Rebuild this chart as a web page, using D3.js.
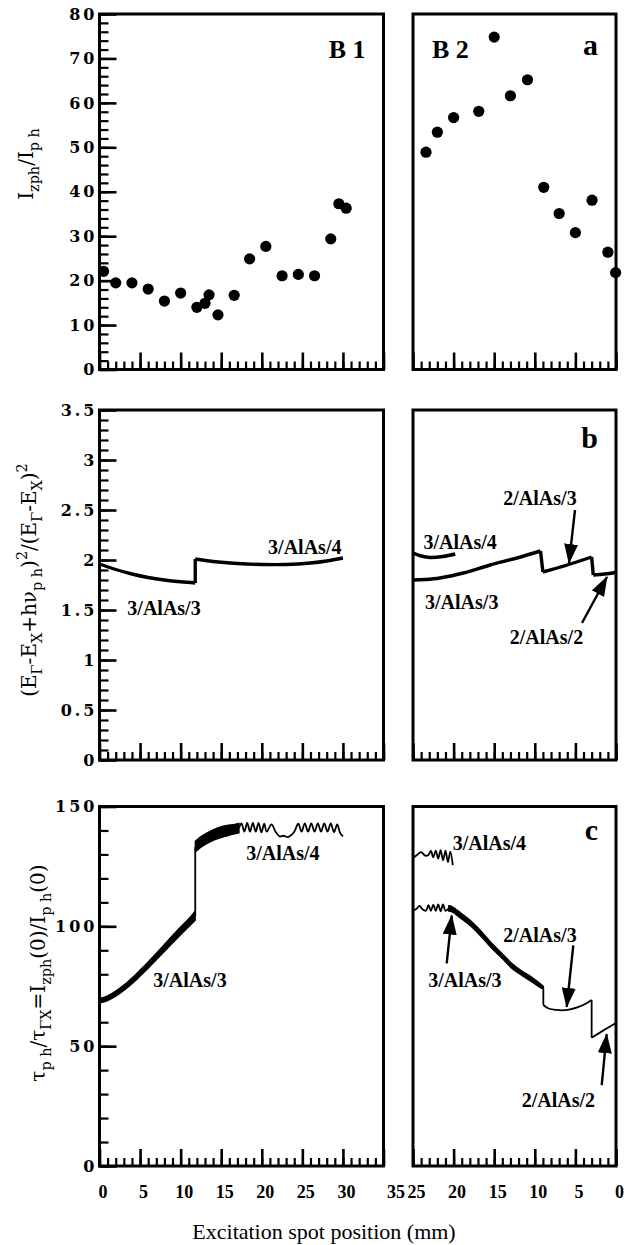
<!DOCTYPE html>
<html>
<head>
<meta charset="utf-8">
<script src="https://cdn.jsdelivr.net/npm/d3@7"></script>
<style>
  body { margin: 0; background: #fff; }
</style>
</head>
<body>
<svg id="chart" width="641" height="1245"></svg>
<script>
// ---- panel a : I_zph / I_ph measured points ----
const aLeftX  = [0.5, 2, 4, 6, 8, 10, 12, 13, 13.5, 14.6, 16.6, 18.5, 20.5, 22.5, 24.5, 26.5, 28.5, 29.5, 30.4];
const aLeftY  = [22.1, 19.5, 19.5, 18.1, 15.4, 17.2, 14.0, 14.9, 16.8, 12.3, 16.7, 24.9, 27.7, 21.1, 21.4, 21.1, 29.4, 37.3, 36.3];
const aRightX = [23.4, 22.0, 20.0, 16.9, 15.0, 13.0, 10.9, 8.9, 7.0, 5.0, 2.95, 1.0, 0.05];
const aRightY = [48.9, 53.4, 56.7, 58.1, 74.8, 61.6, 65.2, 41.0, 35.1, 30.8, 38.1, 26.4, 21.8];

// ---- panel b : energy ratio curves [x, y] ----
const bLeftLines = [
  [[0, 1.96], [2, 1.905], [4, 1.86], [6, 1.825], [8, 1.80], [10, 1.782], [11.8, 1.77]],
  [[11.8, 1.77], [11.8, 2.01]],
  [[11.8, 2.01], [14, 1.985], [17, 1.965], [20, 1.955], [23, 1.955], [26, 1.97], [28, 1.99], [30, 2.02]]
];
const bRightLines = [
  [[25, 2.07], [24, 2.04], [22.9, 2.025], [21.3, 2.035], [19.8, 2.06]],
  [[25, 1.80], [23.5, 1.805], [21.7, 1.82], [18.8, 1.87], [15.5, 1.95], [12.2, 2.02], [9.3, 2.09]],
  [[9.3, 2.09], [9.0, 1.88]],
  [[9.0, 1.88], [6.0, 1.95], [3.0, 2.03]],
  [[3.0, 2.03], [2.8, 1.85]],
  [[2.8, 1.85], [1.4, 1.86], [0, 1.875]]
];

// ---- panel c : lifetime ratio, dense oscillation as bands [x, low, high] ----
const cLeftBands = [
  [[0, 68, 69.8], [1, 69, 71], [2, 70.8, 73], [3, 73.2, 75.5], [4, 76, 78.5], [5, 79.2, 81.8], [6, 82.5, 85.2],
   [7, 86, 88.8], [8, 89.5, 92.5], [9, 93, 96.2], [10, 96.5, 99.8], [11, 99.8, 103.2], [11.8, 102.5, 106.5]],
  [[11.8, 131, 135.5], [12.5, 133, 137.5], [13.5, 135, 139.5], [14.5, 136.5, 141], [15.5, 137.5, 142],
   [16.5, 138.5, 142.5], [17.2, 139, 143]]
];
const cLeftLines = [
  [[11.8, 104.5], [11.8, 133]],
  [[17.2, 141], [17.5, 143], [17.85, 139.5], [18.2, 143.2], [18.55, 139.5], [18.9, 143.2], [19.25, 139.5],
   [19.6, 143.2], [19.95, 139.2], [20.3, 142.8], [20.6, 139.5], [21.2, 142.5], [21.7, 139.5], [22.2, 137.5],
   [22.7, 137.8], [23.2, 137.2], [23.6, 138], [24.0, 139.5], [24.5, 142.8], [24.9, 139.5], [25.3, 143],
   [25.7, 139.5], [26.1, 143], [26.5, 139.5], [26.9, 143], [27.3, 139.5], [27.7, 143], [28.1, 139.5],
   [28.5, 143], [28.9, 139.3], [29.3, 142.5], [29.65, 139], [30.0, 137.5]]
];
const cRightBands = [
  [[20.6, 106.3, 108.6], [20.2, 106, 108.3], [19.0, 103, 105.3], [17.8, 99.8, 102], [16.5, 95.3, 97.6],
   [15.3, 90.8, 93], [14.0, 86.5, 88.6], [12.85, 82.5, 84.6], [11.6, 79.5, 81.4], [10.4, 76.9, 78.9],
   [9.15, 74.1, 75.6], [8.95, 74, 75]]
];
const cRightLines = [
  [[25, 128.5], [24.5, 129.8], [24.0, 131], [23.5, 129.5], [23.1, 129.8], [22.8, 131.5], [22.5, 128.8],
   [22.2, 131.6], [21.9, 128.3], [21.6, 131.8], [21.3, 127.5], [21.0, 131.6], [20.7, 126.8], [20.4, 131.2], [20.1, 125.5]],
  [[25, 106.5], [24.6, 107.2], [24.2, 108.5], [23.8, 107], [23.4, 106.5], [23.1, 108.8], [22.8, 106.5],
   [22.5, 109], [22.2, 106.5], [21.9, 109.2], [21.6, 106.3], [21.3, 109.2], [21.0, 106.5], [20.6, 107.5]],
  [[8.95, 74.5], [8.95, 67.2]],
  [[8.95, 67.2], [8.3, 65.7], [7.3, 65.1], [6.3, 65.0], [5.5, 65.5], [4.6, 66.4], [3.8, 67.6], [3.0, 69.3]],
  [[3.0, 69.3], [3.0, 53.5]],
  [[3.0, 53.5], [1.5, 56.7], [0, 59.7]]
];

// ---- annotations (data coordinates) ----
const bLabels = [
  {side: "L", text: "3/AlAs/3", x: 7.95, y: 1.52},
  {side: "L", text: "3/AlAs/4", x: 25.3, y: 2.13},
  {side: "R", text: "3/AlAs/4", x: 19.2, y: 2.18},
  {side: "R", text: "3/AlAs/3", x: 19.0, y: 1.58},
  {side: "R", text: "2/AlAs/3", x: 9.36, y: 2.62},
  {side: "R", text: "2/AlAs/2", x: 8.56, y: 1.23}
];
const bArrows = [
  {from: [5.05, 2.50], to: [5.79, 1.97]},
  {from: [4.19, 1.37], to: [1.11, 1.83]}
];
const cLabels = [
  {side: "L", text: "3/AlAs/3", x: 11.15, y: 77.5},
  {side: "L", text: "3/AlAs/4", x: 22.6, y: 130.5},
  {side: "R", text: "3/AlAs/4", x: 15.6, y: 134.6},
  {side: "R", text: "2/AlAs/3", x: 9.36, y: 96.25},
  {side: "R", text: "3/AlAs/3", x: 18.6, y: 77.5},
  {side: "R", text: "2/AlAs/2", x: 7.1, y: 27.5}
];
const cArrows = [
  {from: [20.85, 84.5], to: [20.23, 104.5]},
  {from: [5.26, 92.1], to: [6.07, 66.4]},
  {from: [1.76, 33.75], to: [1.15, 55]}
];

// axis titles: [text, "sub" | "sup" | undefined]
const aTitle = [["I"], ["zph", "sub"], ["/I"], ["p h", "sub"]];
const bTitle = [["(E"], ["Γ", "sub"], ["-E"], ["X", "sub"], ["+hν"], ["p h", "sub"], [")"], ["2", "sup"],
                ["/(E"], ["Γ", "sub"], ["-E"], ["X", "sub"], [")"], ["2", "sup"]];
const cTitle = [["τ"], ["p h", "sub"], ["/τ"], ["ΓX", "sub"], ["=I"], ["zph", "sub"], ["(0)/I"], ["p h", "sub"], ["(0)"]];
const xTitle = "Excitation spot position (mm)";

const serif = "'Liberation Serif', 'Times New Roman', serif";
const wide = "'DejaVu Serif', serif";

const svg = d3.select("#chart");

// scales shared by the three rows
const xL = d3.scaleLinear().domain([0, 35]).range([99.5, 383.5]);
const xR = d3.scaleLinear().domain([25, 0]).range([413, 616]);
const rows = [
  {y: d3.scaleLinear().domain([0, 80]).range([369.5, 14]), major: 10, minor: 2,
   title: aTitle, tx: 33, ty: 164, letters: ["B 1", "B 2", "a"]},
  {y: d3.scaleLinear().domain([0, 3.5]).range([760, 410]), major: 0.5, minor: 0.1,
   title: bTitle, tx: 36, ty: 580, letters: [null, null, "b"]},
  {y: d3.scaleLinear().domain([0, 150]).range([1166, 806.5]), major: 50, minor: 10,
   title: cTitle, tx: 45, ty: 973, letters: [null, null, "c"]}
];

// arrow head
svg.append("defs").append("marker")
  .attr("id", "head")
  .attr("markerUnits", "userSpaceOnUse")
  .attr("markerWidth", 20).attr("markerHeight", 14)
  .attr("refX", 19).attr("refY", 7)
  .attr("orient", "auto")
  .append("path").attr("d", "M0,0 L20,7 L0,14 Z").attr("fill", "#000");

function rich(text, parts, size) {
  let off = 0;
  parts.forEach(function(p) {
    const target = p[1] === "sub" ? 6 : p[1] === "sup" ? -9 : 0;
    text.append("tspan")
      .attr("dy", target - off)
      .attr("font-size", p[1] ? size * 0.72 : size)
      .text(p[0]);
    off = target;
  });
}

function styleTicks(g, w) {
  g.select(".domain").remove();
  g.selectAll(".tick line").attr("stroke", "#000").attr("stroke-width", w);
}

rows.forEach(function(row, i) {
  const y = row.y;
  const y0 = y.range()[1], y1 = y.range()[0];
  const last = i === rows.length - 1;

  [xL, xR].forEach(function(x, k) {
    const xa = d3.min(x.range()), xb = d3.max(x.range());
    const xmax = d3.max(x.domain());
    const g = svg.append("g");

    // minor + major ticks on the bottom, pointing inward
    g.append("g").attr("transform", `translate(0,${y1})`)
      .call(d3.axisBottom(x).tickValues(d3.range(0, xmax + 0.5, 1)).tickSize(-8).tickFormat(""))
      .call(styleTicks, 2.2);
    const bx = g.append("g").attr("transform", `translate(0,${y1})`)
      .call(d3.axisBottom(x).tickValues(d3.range(0, xmax + 0.5, 5)).tickSize(-17).tickPadding(19)
        .tickFormat(last ? d3.format("d") : ""))
      .call(styleTicks, 2.6);
    bx.selectAll(".tick text")
      .style("font-family", serif).attr("font-weight", "bold").attr("font-size", 18).attr("fill", "#000")
      .attr("dx", d => (k === 0 && d === 35) ? 12 : 3);

    // left axis only on the left panel
    if (k === 0) {
      const ymax = y.domain()[1];
      g.append("g").attr("transform", `translate(${xa},0)`)
        .call(d3.axisLeft(y).tickValues(d3.range(0, ymax + row.minor / 2, row.minor)).tickSize(-9).tickFormat(""))
        .call(styleTicks, 2.2);
      const ly = g.append("g").attr("transform", `translate(${xa},0)`)
        .call(d3.axisLeft(y).tickValues(d3.range(0, ymax + row.major / 2, row.major)).tickSize(-17).tickPadding(2)
          .tickFormat(d3.format("~g")))
        .call(styleTicks, 2.6);
      ly.selectAll(".tick text")
        .style("font-family", wide).attr("font-weight", "bold").attr("font-size", 16)
        .attr("letter-spacing", 3).attr("fill", "#000");

      // rotated y title
      const t = svg.append("text")
        .attr("transform", `translate(${row.tx},${row.ty}) rotate(-90)`)
        .attr("text-anchor", "middle")
        .style("font-family", wide).attr("font-size", 20).attr("fill", "#000");
      rich(t, row.title, 20);
    }

    // frame
    g.append("rect")
      .attr("x", xa).attr("y", y0).attr("width", xb - xa).attr("height", y1 - y0)
      .attr("fill", "none").attr("stroke", "#000").attr("stroke-width", 3);
  });

  // panel letters
  if (row.letters[0]) {
    svg.append("text").attr("x", xL.range()[1] - 18).attr("y", y0 + 44).attr("text-anchor", "end")
      .style("font-family", serif).attr("font-weight", "bold").attr("font-size", 26).text(row.letters[0]);
    svg.append("text").attr("x", xR.range()[0] + 19).attr("y", y0 + 44)
      .style("font-family", serif).attr("font-weight", "bold").attr("font-size", 26).text(row.letters[1]);
  }
  svg.append("text").attr("x", xR.range()[1] - 18).attr("y", y0 + (i === 0 ? 41 : i === 1 ? 38 : 33))
    .attr("text-anchor", "end")
    .style("font-family", serif).attr("font-weight", "bold").attr("font-size", 30).text(row.letters[2]);
});

// ---- panel a dots ----
const ya = rows[0].y;
svg.append("g").selectAll("circle")
  .data(d3.zip(aLeftX, aLeftY))
  .join("circle")
  .attr("cx", d => xL(d[0])).attr("cy", d => ya(d[1])).attr("r", 5.6).attr("fill", "#000");
svg.append("g").selectAll("circle")
  .data(d3.zip(aRightX, aRightY))
  .join("circle")
  .attr("cx", d => xR(d[0])).attr("cy", d => ya(d[1])).attr("r", 5.6).attr("fill", "#000");

// ---- curves ----
function drawLines(lines, x, y, w) {
  const line = d3.line().x(d => x(d[0])).y(d => y(d[1])).curve(d3.curveCatmullRom);
  svg.append("g").selectAll("path")
    .data(lines)
    .join("path")
    .attr("d", line)
    .attr("fill", "none").attr("stroke", "#000").attr("stroke-width", w)
    .attr("stroke-linejoin", "round");
}
function drawBands(bands, x, y) {
  const area = d3.area().x(d => x(d[0])).y0(d => y(d[1])).y1(d => y(d[2])).curve(d3.curveCatmullRom);
  svg.append("g").selectAll("path")
    .data(bands)
    .join("path")
    .attr("d", area)
    .attr("fill", "#000").attr("stroke", "#000").attr("stroke-width", 1.2);
}

const yb = rows[1].y, yc = rows[2].y;
drawLines(bLeftLines, xL, yb, 3.4);
drawLines(bRightLines, xR, yb, 3.4);
drawBands(cLeftBands, xL, yc);
drawLines(cLeftLines, xL, yc, 1.8);
drawBands(cRightBands, xR, yc);
drawLines(cRightLines, xR, yc, 1.8);

// ---- labels and arrows ----
function annotate(labels, arrows, y) {
  svg.append("g").selectAll("text")
    .data(labels)
    .join("text")
    .attr("x", d => (d.side === "L" ? xL : xR)(d.x))
    .attr("y", d => y(d.y))
    .attr("text-anchor", "middle")
    .attr("dominant-baseline", "central")
    .style("font-family", serif).attr("font-weight", "bold").attr("font-size", 20)
    .text(d => d.text);
  svg.append("g").selectAll("line")
    .data(arrows)
    .join("line")
    .attr("x1", d => xR(d.from[0])).attr("y1", d => y(d.from[1]))
    .attr("x2", d => xR(d.to[0])).attr("y2", d => y(d.to[1]))
    .attr("stroke", "#000").attr("stroke-width", 2.4)
    .attr("marker-end", "url(#head)");
}
annotate(bLabels, bArrows, yb);
annotate(cLabels, cArrows, yc);

// x title
svg.append("text")
  .attr("x", 324).attr("y", 1239)
  .attr("text-anchor", "middle")
  .style("font-family", serif).attr("font-size", 22).attr("fill", "#000")
  .text(xTitle);
</script>
</body>
</html>
